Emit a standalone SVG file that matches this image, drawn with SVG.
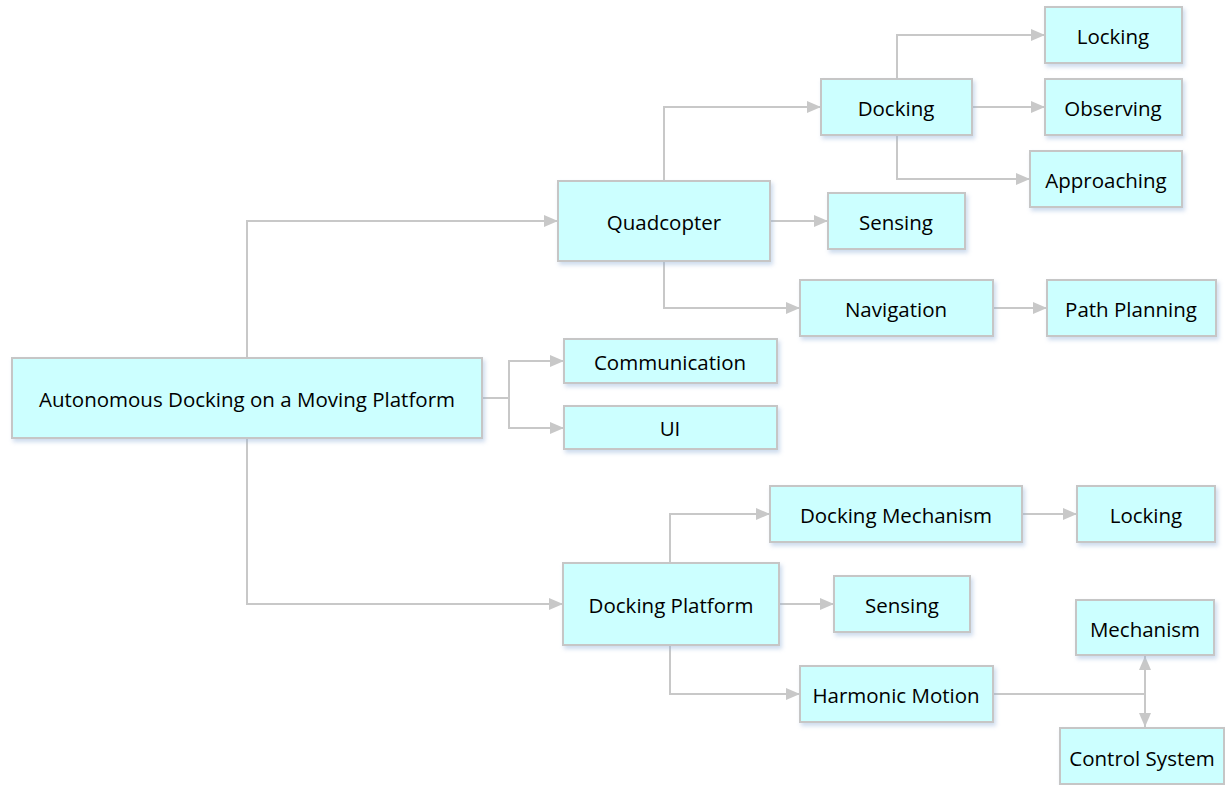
<svg xmlns="http://www.w3.org/2000/svg" width="1225" height="785" viewBox="0 0 1225 785">
  <defs>
    <filter id="shadow" x="-10%" y="-20%" width="120%" height="150%">
      <feDropShadow dx="2" dy="3" stdDeviation="2" flood-color="#8fb0d8" flood-opacity="0.45"/>
    </filter>
    <marker id="arrow" viewBox="0 0 14 12" refX="14" refY="6" markerWidth="14" markerHeight="12" markerUnits="userSpaceOnUse" orient="auto">
      <path d="M0,0 L14,6 L0,12 Z" fill="#c8c8c8"/>
    </marker>
    <style>
      .box { fill: #ccffff; stroke: #c6c6c6; stroke-width: 2; filter: url(#shadow); }
      .lbl { font-family: "Open Sans", "Liberation Sans", sans-serif; font-size: 20.5px; fill: #000; text-anchor: middle; dominant-baseline: central; }
      .con { fill: none; stroke: #c8c8c8; stroke-width: 2; }
      .arr { marker-end: url(#arrow); }
    </style>
  </defs>
  <rect width="1225" height="785" fill="#ffffff"/>

  <!-- connectors -->
  <g id="connectors">
    <path class="con arr" d="M247,358 V221 H558"/>
    <path class="con arr" d="M247,438 V604 H563"/>
    <path class="con" d="M482,398 H509"/>
    <path class="con arr" d="M509,398 V361 H564"/>
    <path class="con arr" d="M509,398 V428 H564"/>
    <path class="con arr" d="M664,181 V107 H821"/>
    <path class="con arr" d="M770,221 H828"/>
    <path class="con arr" d="M664,261 V308 H800"/>
    <path class="con arr" d="M897,79 V35 H1045"/>
    <path class="con arr" d="M972,107 H1045"/>
    <path class="con arr" d="M897,135 V179 H1030"/>
    <path class="con arr" d="M993,308 H1047"/>
    <path class="con arr" d="M670,563 V514 H770"/>
    <path class="con arr" d="M779,604 H834"/>
    <path class="con arr" d="M670,645 V694 H800"/>
    <path class="con arr" d="M1022,514 H1077"/>
    <path class="con" d="M993,694 H1145"/>
    <path class="con arr" d="M1145,694 V656"/>
    <path class="con arr" d="M1145,694 V727"/>
  </g>

  <!-- nodes -->
  <g id="root">
    <rect class="box" x="12" y="358" width="470" height="80"/>
    <text class="lbl" x="247" y="399">Autonomous Docking on a Moving Platform</text>
  </g>
  <g id="quadcopter">
    <rect class="box" x="558" y="181" width="212" height="80"/>
    <text class="lbl" x="664" y="222">Quadcopter</text>
  </g>
  <g id="docking">
    <rect class="box" x="821" y="79" width="151" height="56"/>
    <text class="lbl" x="896" y="108">Docking</text>
  </g>
  <g id="locking-q">
    <rect class="box" x="1045" y="7" width="137" height="56"/>
    <text class="lbl" x="1113" y="36">Locking</text>
  </g>
  <g id="observing">
    <rect class="box" x="1045" y="79" width="137" height="56"/>
    <text class="lbl" x="1113" y="108">Observing</text>
  </g>
  <g id="approaching">
    <rect class="box" x="1030" y="151" width="152" height="56"/>
    <text class="lbl" x="1106" y="180">Approaching</text>
  </g>
  <g id="sensing-q">
    <rect class="box" x="828" y="193" width="137" height="56"/>
    <text class="lbl" x="896" y="222">Sensing</text>
  </g>
  <g id="navigation">
    <rect class="box" x="800" y="280" width="193" height="56"/>
    <text class="lbl" x="896" y="309">Navigation</text>
  </g>
  <g id="path-planning">
    <rect class="box" x="1047" y="280" width="169" height="56"/>
    <text class="lbl" x="1131" y="309">Path Planning</text>
  </g>
  <g id="communication">
    <rect class="box" x="564" y="339" width="213" height="44"/>
    <text class="lbl" x="670" y="362">Communication</text>
  </g>
  <g id="ui">
    <rect class="box" x="564" y="406" width="213" height="43"/>
    <text class="lbl" x="670" y="428">UI</text>
  </g>
  <g id="docking-platform">
    <rect class="box" x="563" y="563" width="216" height="82"/>
    <text class="lbl" x="671" y="605">Docking Platform</text>
  </g>
  <g id="docking-mechanism">
    <rect class="box" x="770" y="486" width="252" height="56"/>
    <text class="lbl" x="896" y="515">Docking Mechanism</text>
  </g>
  <g id="locking-p">
    <rect class="box" x="1077" y="486" width="138" height="56"/>
    <text class="lbl" x="1146" y="515">Locking</text>
  </g>
  <g id="sensing-p">
    <rect class="box" x="834" y="576" width="136" height="56"/>
    <text class="lbl" x="902" y="605">Sensing</text>
  </g>
  <g id="harmonic-motion">
    <rect class="box" x="800" y="666" width="193" height="56"/>
    <text class="lbl" x="896" y="695">Harmonic Motion</text>
  </g>
  <g id="mechanism">
    <rect class="box" x="1076" y="600" width="138" height="55"/>
    <text class="lbl" x="1145" y="629">Mechanism</text>
  </g>
  <g id="control-system">
    <rect class="box" x="1060" y="728" width="164" height="56"/>
    <text class="lbl" x="1142" y="758">Control System</text>
  </g>
</svg>
